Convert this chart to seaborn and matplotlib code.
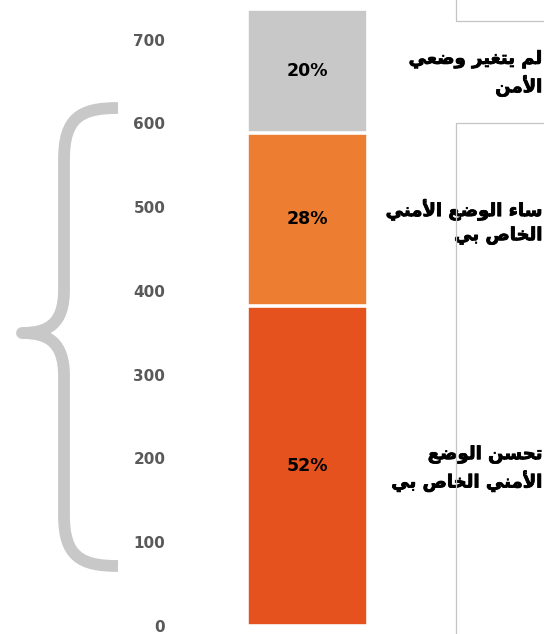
import numpy as np
import pandas as pd
import matplotlib
matplotlib.use("Agg")
import matplotlib.pyplot as plt
import matplotlib.patheffects as pe
import seaborn as sns
from matplotlib.path import Path
from matplotlib.patches import PathPatch
from matplotlib.transforms import blended_transform_factory

# ---------------- data ----------------
categories = ["تحسن الوضع\nالأمني الخاص بي",
              "ساء الوضع الأمني\nالخاص بي",
              "لم يتغير وضعي\nالأمن"]
values = [382, 207, 148]
pct_labels = ["52%", "28%", "20%"]
colors = ["#E5521D", "#ED7D31", "#C8C8C8"]
yticks = [0, 100, 200, 300, 400, 500, 600, 700]

# ---------------- minimal Arabic shaping ----------------
FORMS = {
    '\u0621': ('\uFE80', None, None, None),
    '\u0623': ('\uFE83', '\uFE84', None, None),
    '\u0627': ('\uFE8D', '\uFE8E', None, None),
    '\u0628': ('\uFE8F', '\uFE90', '\uFE91', '\uFE92'),
    '\u062A': ('\uFE95', '\uFE96', '\uFE97', '\uFE98'),
    '\u062D': ('\uFEA1', '\uFEA2', '\uFEA3', '\uFEA4'),
    '\u062E': ('\uFEA5', '\uFEA6', '\uFEA7', '\uFEA8'),
    '\u0631': ('\uFEAD', '\uFEAE', None, None),
    '\u0633': ('\uFEB1', '\uFEB2', '\uFEB3', '\uFEB4'),
    '\u0635': ('\uFEB9', '\uFEBA', '\uFEBB', '\uFEBC'),
    '\u0636': ('\uFEBD', '\uFEBE', '\uFEBF', '\uFEC0'),
    '\u0639': ('\uFEC9', '\uFECA', '\uFECB', '\uFECC'),
    '\u063A': ('\uFECD', '\uFECE', '\uFECF', '\uFED0'),
    '\u0644': ('\uFEDD', '\uFEDE', '\uFEDF', '\uFEE0'),
    '\u0645': ('\uFEE1', '\uFEE2', '\uFEE3', '\uFEE4'),
    '\u0646': ('\uFEE5', '\uFEE6', '\uFEE7', '\uFEE8'),
    '\u0648': ('\uFEED', '\uFEEE', None, None),
    '\u064A': ('\uFEF1', '\uFEF2', '\uFEF3', '\uFEF4'),
}
LAMALEF = {'\u0627': ('\uFEFB', '\uFEFC'), '\u0623': ('\uFEF7', '\uFEF8')}


def _joins_prev(c):
    return c in FORMS and FORMS[c][1] is not None


def _joins_next(c):
    return c in FORMS and FORMS[c][2] is not None


def shape_line(s):
    ch = list(s)
    n = len(ch)
    res = []
    i = 0
    while i < n:
        c = ch[i]
        prev = ch[i - 1] if i > 0 else None
        pc = prev is not None and _joins_next(prev) and _joins_prev(c)
        if c == '\u0644' and i + 1 < n and ch[i + 1] in LAMALEF:
            lig = LAMALEF[ch[i + 1]]
            res.append(lig[1] if pc else lig[0])
            i += 2
            continue
        if c not in FORMS:
            res.append(c)
            i += 1
            continue
        nxt = ch[i + 1] if i + 1 < n else None
        nc = nxt is not None and _joins_next(c) and _joins_prev(nxt)
        iso, fin, ini, med = FORMS[c]
        if pc and nc:
            g = med
        elif pc:
            g = fin
        elif nc:
            g = ini
        else:
            g = iso
        res.append(g)
        i += 1
    return ''.join(reversed(res))


def shape(s):
    return "\n".join(shape_line(l) for l in s.split("\n"))


# ---------------- figure ----------------
sns.set_theme(style="white")
plt.rcParams['font.family'] = ['DejaVu Sans']

W, H = 544, 634
fig = plt.figure(figsize=(W / 100, H / 100), dpi=100)
ax = fig.add_axes([175 / W, 8 / H, 265 / W, 619.8 / H])
ax.set_facecolor("none")

tops = np.cumsum(values)
bottoms = tops - np.array(values)
df = pd.DataFrame({"bar": ["all"] * len(values), "top": tops})
for i in reversed(range(len(values))):
    sns.barplot(data=df.iloc[[i]], x="bar", y="top", color=colors[i],
                saturation=1, width=0.455, edgecolor="white",
                linewidth=2.6, ax=ax, errorbar=None)

ax.set_xlim(-0.5, 0.5)
ax.set_ylim(0, 740)
ax.set_yticks(yticks)
ax.set_yticklabels([str(t) for t in yticks], fontsize=11, fontweight="bold",
                   color="#595959")
ax.tick_params(axis="y", length=0, pad=7)
ax.set_xticks([])
ax.set_xlabel("")
ax.set_ylabel("")
sns.despine(ax=ax, left=True, bottom=True)

for b, v, p in zip(bottoms, values, pct_labels):
    ax.text(0, b + v / 2, p, ha="center", va="center", fontsize=12.5,
            fontweight="bold", color="black")

# category labels at right edge
trans = blended_transform_factory(fig.transFigure, ax.transData)
for b, v, c in zip(bottoms, values, categories):
    ax.text(0.997, b + v / 2 - 3, shape(c), transform=trans, ha="right",
            va="center", multialignment="right", fontsize=13,
            fontweight="bold", color="black", linespacing=1.42,
            clip_on=False,
            path_effects=[pe.withStroke(linewidth=0.6, foreground="black")])

# ---------------- overlay decorations (brace, frame lines) ----------------
ov = fig.add_axes([0, 0, 1, 1])
ov.set_xlim(0, W)
ov.set_ylim(H, 0)
ov.axis("off")
ov.patch.set_alpha(0)

verts = [(118, 108), (80, 108), (64, 118), (64, 160),
         (64, 290),
         (64, 324), (48, 333), (22, 333),
         (48, 333), (64, 342), (64, 376),
         (64, 515),
         (64, 556), (80, 566), (118, 566)]
codes = [Path.MOVETO, Path.CURVE4, Path.CURVE4, Path.CURVE4,
         Path.LINETO,
         Path.CURVE4, Path.CURVE4, Path.CURVE4,
         Path.CURVE4, Path.CURVE4, Path.CURVE4,
         Path.LINETO,
         Path.CURVE4, Path.CURVE4, Path.CURVE4]
ov.add_patch(PathPatch(Path(verts, codes), facecolor="none",
                       edgecolor="#C8C8C8", linewidth=8.5,
                       capstyle="butt", joinstyle="round"))

lc = "#C4C4C4"
ov.plot([455.5, 455.5, W], [0, 20.5, 20.5], color=lc, lw=0.9)
ov.plot([W, 455.5, 455.5], [122.5, 122.5, H], color=lc, lw=0.9)

fig.savefig("out.png", dpi=100)
